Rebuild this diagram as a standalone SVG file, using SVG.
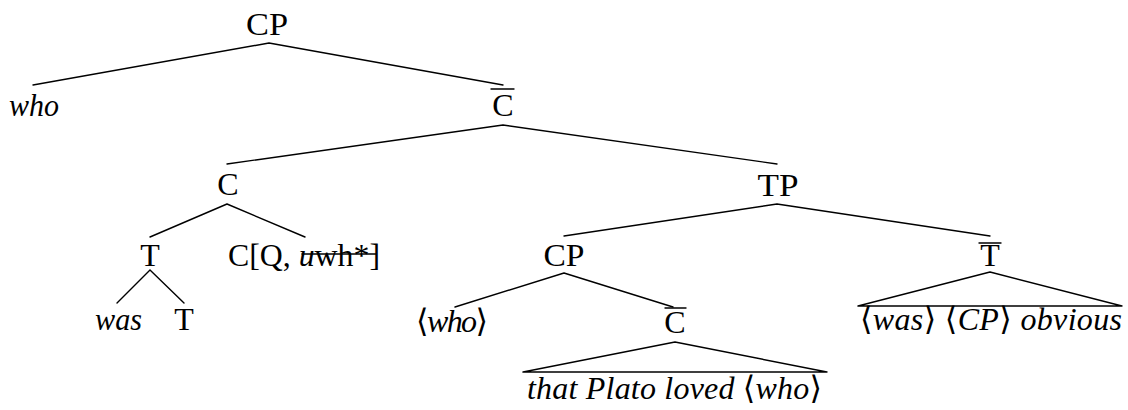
<svg xmlns="http://www.w3.org/2000/svg" width="1128" height="410" viewBox="0 0 1128 410">
<style>
text{font-family:"Liberation Serif","DejaVu Serif",serif;font-size:32px;fill:#000}
.m{text-anchor:middle}
.i{font-style:italic}
.e{stroke:#000;stroke-width:1.4;fill:none;stroke-linecap:round;stroke-linejoin:round}
</style>
<rect width="1128" height="410" fill="#fff"/>
<g id="connectors" class="e">
<path d="M269,43 L33,85 M269,43 L503,85"/>
<path d="M503,125 L227,164 M503,125 L777,164"/>
<path d="M227,204 L150,237 M227,204 L305,237"/>
<path d="M777,204 L564,236 M777,204 L990,236"/>
<path d="M150,270 L117,303 M150,270 L184,303"/>
<path d="M564,273 L455,307 M564,273 L673,307"/>
<path d="M675,342 L523,372 L827,372 Z"/>
<path d="M990,272 L858,306 L1122,306 Z"/>
</g>
<g id="n-cp-root"><text class="m" x="267" y="35" textLength="42" lengthAdjust="spacingAndGlyphs">CP</text></g>
<g id="n-who"><text class="i" x="9" y="116" textLength="50" lengthAdjust="spacingAndGlyphs">who</text></g>
<g id="n-cbar1"><text class="m" x="503" y="116">C</text><line class="e" x1="491" y1="89" x2="514" y2="89"/></g>
<g id="n-c"><text class="m" x="228" y="195">C</text></g>
<g id="n-tp"><text class="m" x="778" y="196" textLength="41" lengthAdjust="spacingAndGlyphs">TP</text></g>
<g id="n-t"><text class="m" x="150" y="266">T</text></g>
<g id="n-cq"><text x="228" y="266" textLength="152" lengthAdjust="spacingAndGlyphs">C[Q, <tspan class="i">u</tspan>wh*]</text><line class="e" x1="302" y1="254" x2="376" y2="254"/></g>
<g id="n-cp2"><text class="m" x="564" y="266" textLength="41" lengthAdjust="spacingAndGlyphs">CP</text></g>
<g id="n-tbar"><text class="m" x="990" y="266">T</text><line class="e" x1="979" y1="243" x2="1001" y2="243"/></g>
<g id="n-was"><text class="i" x="95" y="330" textLength="47" lengthAdjust="spacingAndGlyphs">was</text></g>
<g id="n-t2"><text class="m" x="184" y="330">T</text></g>
<g id="n-who2"><text x="416" y="332" textLength="72" lengthAdjust="spacing">⟨<tspan class="i">who</tspan>⟩</text></g>
<g id="n-cbar2"><text class="m" x="675" y="333">C</text><line class="e" x1="665" y1="308" x2="686" y2="308"/></g>
<g id="n-tri1"><text class="i" x="527" y="399" textLength="295" lengthAdjust="spacing">that Plato loved <tspan font-style="normal">⟨</tspan>who<tspan font-style="normal">⟩</tspan></text></g>
<g id="n-tri2"><text x="860" y="330" textLength="262" lengthAdjust="spacing">⟨<tspan class="i">was</tspan>⟩ ⟨<tspan class="i">CP</tspan>⟩ <tspan class="i">obvious</tspan></text></g>
</svg>
